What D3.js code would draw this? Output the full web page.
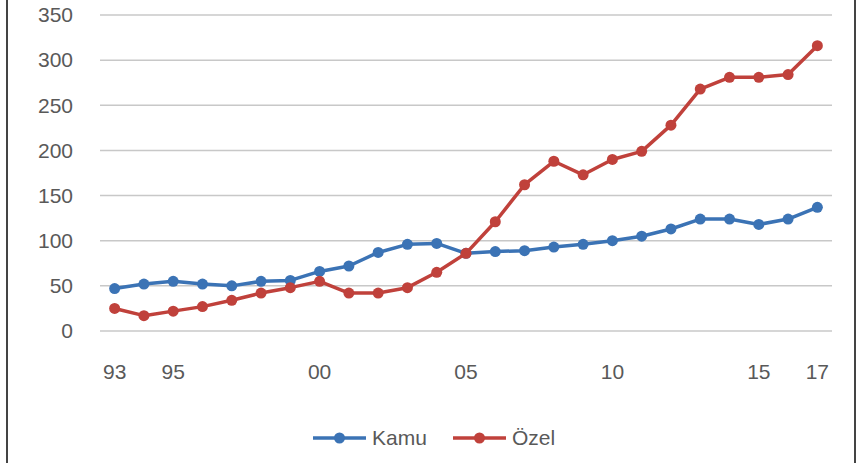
<!DOCTYPE html>
<html>
<head>
<meta charset="utf-8">
<script src="https://cdn.jsdelivr.net/npm/d3@7"></script>
<style>
  body { margin: 0; background: #fff; }
  text { font-family: "Liberation Sans", Arial, sans-serif; fill: #595959; }
</style>
</head>
<body>
<svg width="859" height="463"></svg>
<script>
var years = ["93","94","95","96","97","98","99","00","01","02","03","04","05",
  "06","07","08","09","10","11","12","13","14","15","16","17"];
var shownTicks = ["93","95","00","05","10","15","17"];
var kamu = [47, 52, 55, 52, 50, 55, 56, 66, 72, 87, 96, 97, 86,
  88, 89, 93, 96, 100, 105, 113, 124, 124, 118, 124, 137];
var ozel = [25, 17, 22, 27, 34, 42, 48, 55, 42, 42, 48, 65, 86,
  121, 162, 188, 173, 190, 199, 228, 268, 281, 281, 284, 316];
var yTicks = [0, 50, 100, 150, 200, 250, 300, 350];

var series = [
  { name: "Kamu", values: kamu, color: "#3b73b5" },
  { name: "Özel", values: ozel, color: "#c0413b" }
];

var svg = d3.select("svg"),
  width = +svg.attr("width"),
  height = +svg.attr("height");

var x = d3.scaleBand().domain(years).range([100, 832]);
var y = d3.scaleLinear().domain([0, 350]).range([331, 15]);

// frame lines left and right
svg.append("line").attr("x1", 7).attr("x2", 7).attr("y1", 0).attr("y2", height)
  .attr("stroke", "#444").attr("stroke-width", 2);
svg.append("line").attr("x1", 855).attr("x2", 855).attr("y1", 0).attr("y2", height)
  .attr("stroke", "#444").attr("stroke-width", 2);

// gridlines
svg.append("g")
  .selectAll("line")
  .data(yTicks)
  .enter()
  .append("line")
  .attr("x1", 100).attr("x2", 832)
  .attr("y1", function (d) { return y(d); })
  .attr("y2", function (d) { return y(d); })
  .attr("stroke", "#c8c8c8")
  .attr("stroke-width", 1.5);

var yAxis = svg.append("g")
  .attr("transform", "translate(80,0)")
  .call(d3.axisLeft(y).tickValues(yTicks).tickSize(0).tickPadding(7));
yAxis.select(".domain").remove();
yAxis.selectAll("text").attr("font-size", 21).style("font-family", null).attr("fill", null);

var xAxis = svg.append("g")
  .attr("transform", "translate(0,364)")
  .call(d3.axisBottom(x).tickValues(shownTicks).tickSize(0).tickPadding(0));
xAxis.select(".domain").remove();
xAxis.selectAll("text").attr("font-size", 21).style("font-family", null).attr("fill", null);

var line = d3.line()
  .x(function (d, i) { return x(years[i]) + x.bandwidth() / 2; })
  .y(function (d) { return y(d); });

var g = svg.append("g")
  .selectAll("g")
  .data(series)
  .enter()
  .append("g");

g.append("path")
  .attr("d", function (d) { return line(d.values); })
  .attr("fill", "none")
  .attr("stroke", function (d) { return d.color; })
  .attr("stroke-width", 3.5)
  .attr("stroke-linejoin", "round");

g.selectAll("circle")
  .data(function (d) { return d.values.map(function (v) { return { v: v, c: d.color }; }); })
  .enter()
  .append("circle")
  .attr("cx", function (d, i) { return x(years[i]) + x.bandwidth() / 2; })
  .attr("cy", function (d) { return y(d.v); })
  .attr("r", 5.5)
  .attr("fill", function (d) { return d.c; });

// legend
var legend = svg.append("g")
  .selectAll("g")
  .data(series)
  .enter()
  .append("g")
  .attr("transform", function (d, i) { return "translate(" + (313 + i * 140) + ",438)"; });

legend.append("line")
  .attr("x1", 0).attr("x2", 53)
  .attr("stroke", function (d) { return d.color; })
  .attr("stroke-width", 3.5);
legend.append("circle")
  .attr("cx", 26.5).attr("r", 5.5)
  .attr("fill", function (d) { return d.color; });
legend.append("text")
  .attr("x", 59).attr("dy", "0.35em")
  .attr("font-size", 21)
  .text(function (d) { return d.name; });
</script>
</body>
</html>
